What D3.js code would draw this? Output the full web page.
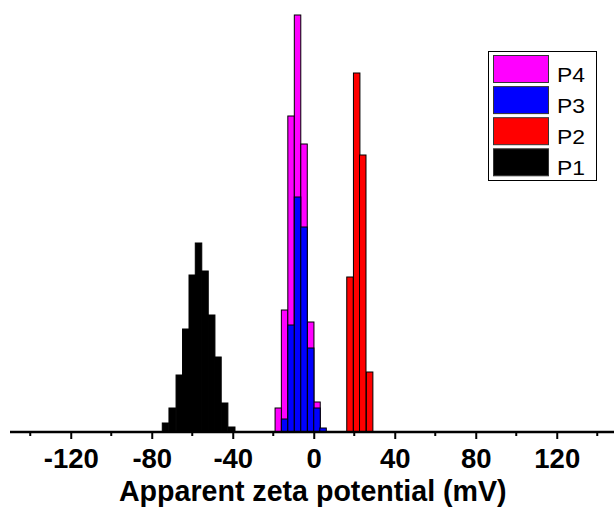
<!DOCTYPE html>
<html>
<head>
<meta charset="utf-8">
<script src="https://cdn.jsdelivr.net/npm/d3@7"></script>
<style>
  html, body { margin: 0; padding: 0; background: #fff; }
  svg { display: block; }
</style>
</head>
<body>
<svg id="chart" width="614" height="508"></svg>
<script>
// Histogram bins: centre of each bin (mV) and its count (arbitrary units)
const binWidth = 3.2;

const p1Centers = [-73.2, -69.9, -66.4, -63.2, -60.0, -56.9, -53.7, -50.4, -47.3, -44.0, -40.5];
const p1Counts  = [9, 24, 57, 103, 157, 189, 161, 117, 75, 29, 5];

const p2Centers = [17.9, 21.2, 24.2, 27.6];
const p2Counts  = [155, 359, 277, 60];

const p3Centers = [-17.5, -14.4, -11.2, -8.0, -4.8, -1.5, 1.6, 4.6];
const p3Counts  = [0, 13, 107, 235, 205, 84, 24, 4];

const p4Centers = [-17.5, -14.4, -11.2, -8.0, -4.8, -1.5, 1.6, 4.6];
const p4Counts  = [24, 122, 316, 417, 288, 110, 30, 0];

const seriesNames  = ["P1", "P2", "P3", "P4"];
const seriesColors = ["#000000", "#ff0000", "#0000ff", "#ff00ff"];

const majorTicks = [-120, -80, -40, 0, 40, 80, 120];
const minorTicks = [-140, -100, -60, -20, 20, 60, 100, 140];
const xTitle = "Apparent zeta potential (mV)";

const series = [
  { name: "P1", centers: p1Centers, counts: p1Counts, color: seriesColors[0] },
  { name: "P2", centers: p2Centers, counts: p2Counts, color: seriesColors[1] },
  { name: "P4", centers: p4Centers, counts: p4Counts, color: seriesColors[3] },
  { name: "P3", centers: p3Centers, counts: p3Counts, color: seriesColors[2] }
];

const svg = d3.select("#chart");
const font = "'Liberation Sans', Arial, sans-serif";

const x = d3.scaleLinear().domain([-150, 150]).range([10, 617.5]);
const y = d3.scaleLinear().domain([0, 420]).range([432, 12]);

// bars (P4 behind P3, both sharing the same bins)
series.forEach(s => {
  const bins = s.centers.map((c, i) => ({ c, v: s.counts[i] })).filter(d => d.v > 0);
  svg.append("g")
    .selectAll("rect")
    .data(bins)
    .join("rect")
      .attr("x", d => x(d.c - binWidth / 2))
      .attr("width", d => x(d.c + binWidth / 2) - x(d.c - binWidth / 2))
      .attr("y", d => y(d.v))
      .attr("height", d => y(0) - y(d.v))
      .attr("fill", s.color)
      .attr("stroke", "#000")
      .attr("stroke-width", 1);
});

// x axis
const axisY = y(0);
const gx = svg.append("g").attr("transform", `translate(0,${axisY})`);
gx.call(d3.axisBottom(x)
    .tickValues(majorTicks)
    .tickSize(7)
    .tickPadding(9)
    .tickFormat(d => String(d).replace("\u2212", "-")));
gx.select(".domain").attr("stroke", "#000").attr("stroke-width", 2.5)
  .attr("d", `M${x(-150)},0H614`);
gx.selectAll(".tick line").attr("stroke", "#000").attr("stroke-width", 2);
gx.selectAll(".tick text")
  .attr("fill", "#000")
  .style("font-family", font)
  .style("font-weight", "bold")
  .style("font-size", "27.5px");

gx.selectAll(".minor")
  .data(minorTicks)
  .join("line")
    .attr("class", "minor")
    .attr("x1", d => x(d)).attr("x2", d => x(d))
    .attr("y1", 0).attr("y2", 4)
    .attr("stroke", "#000").attr("stroke-width", 2);

svg.append("text")
  .attr("x", x(0) - 1)
  .attr("y", 501)
  .attr("text-anchor", "middle")
  .style("font-family", font)
  .style("font-weight", "bold")
  .style("font-size", "28.6px")
  .text(xTitle);

// legend
const legend = svg.append("g");
legend.append("rect")
  .attr("x", 488.5).attr("y", 51.5)
  .attr("width", 108).attr("height", 129)
  .attr("fill", "#fff")
  .attr("stroke", "#000").attr("stroke-width", 1);

const legendOrder = ["P4", "P3", "P2", "P1"];
legendOrder.forEach((name, i) => {
  const color = seriesColors[seriesNames.indexOf(name)];
  const top = 55 + i * 31.1;
  legend.append("rect")
    .attr("x", 493.5).attr("y", top + 0.5)
    .attr("width", 55).attr("height", 27)
    .attr("fill", color)
    .attr("stroke", "#333").attr("stroke-width", 1);
  legend.append("text")
    .attr("x", 557)
    .attr("y", top + 26.5)
    .attr("textLength", 28)
    .attr("lengthAdjust", "spacingAndGlyphs")
    .style("font-family", font)
    .style("font-size", "19.5px")
    .attr("fill", "#000")
    .text(name);
});
</script>
</body>
</html>
